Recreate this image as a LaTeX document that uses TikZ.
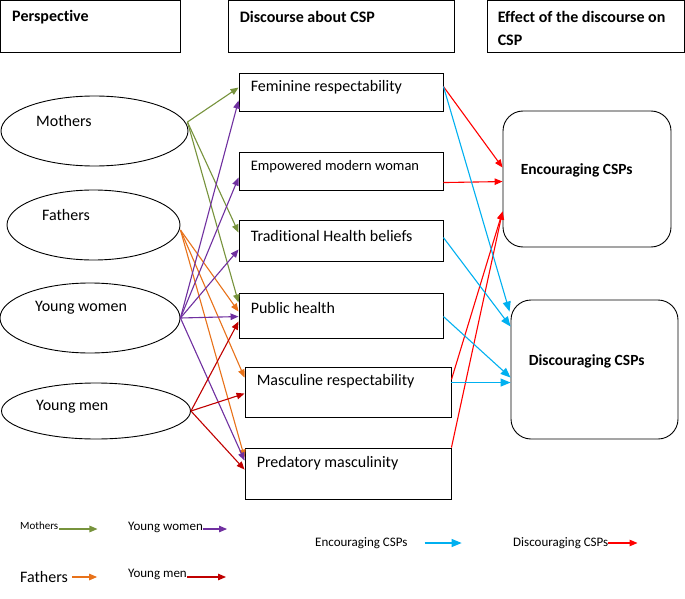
\documentclass[tikz,border=0pt]{standalone}
\usepackage{fontspec}
\setmainfont{Carlito}[Ligatures={NoCommon}]
\usetikzlibrary{calc,arrows.meta,shapes.geometric}
\definecolor{cgreen}{RGB}{119,147,60}
\definecolor{cpurple}{RGB}{112,48,160}
\definecolor{corange}{RGB}{232,114,26}
\definecolor{cdred}{RGB}{192,0,0}
\definecolor{cblue}{RGB}{0,176,240}
\definecolor{cred}{RGB}{255,0,0}
\begin{document}
\begin{tikzpicture}[x=1pt,y=-1pt,
  box/.style={draw, line width=0.9pt, rectangle, inner sep=0pt},
  ell/.style={draw, line width=0.9pt, ellipse, inner sep=0pt},
  eff/.style={draw, line width=0.9pt, rectangle, rounded corners=20pt, inner sep=0pt},
  lbl/.style={anchor=west, inner sep=0pt, font=\fontsize{16}{19}\selectfont},
  hlbl/.style={anchor=west, inner sep=0pt, font=\bfseries\fontsize{16}{19}\selectfont},
  arr/.style={-{Triangle[length=8pt,width=6.5pt]}, line width=1.1pt},
  barr/.style={-{Triangle[length=10pt,width=8pt]}, line width=1.1pt},
]
\fill[white] (0,0) rectangle (685,599);
\useasboundingbox (0,0) rectangle (685,599);

% headers
\node[box, minimum width=179.5pt, minimum height=51.5pt] (h1) at (90.25,26.25) {};
\node[box, minimum width=226pt, minimum height=51.5pt] (h2) at (341,26.25) {};
\node[box, minimum width=197.5pt, minimum height=51.5pt] (h3) at (585.75,26.25) {};
\node[hlbl] (h1t) at ($(h1.north west)+(12,17)$) {Perspective};
\node[hlbl] (h2t) at ($(h2.north west)+(12,17)$) {Discourse about CSP};
\node[hlbl] (h3t) at ($(h3.north west)+(11,17)$) {Effect of the discourse on};
\node[hlbl] (h3u) at ($(h3.north west)+(11,40)$) {CSP};

% perspectives
\node[ell, minimum width=187pt, minimum height=70pt] (mo) at (94.5,131) {};
\node[ell, minimum width=173pt, minimum height=70pt] (fa) at (93.5,225) {};
\node[ell, minimum width=180pt, minimum height=70pt] (yw) at (90,318) {};
\node[ell, minimum width=189pt, minimum height=56pt] (ym) at (96,411) {};
\node[lbl] (mot) at (36,121) {Mothers};
\node[lbl] (fat) at (42,215) {Fathers};
\node[lbl] (ywt) at (35,308) {Young women};
\node[lbl] (ymt) at (36,407) {Young men};

% discourses
\node[box, minimum width=204pt, minimum height=38pt] (fem) at (341,92) {};
\node[box, minimum width=204pt, minimum height=38pt] (emp) at (341,171) {};
\node[box, minimum width=204pt, minimum height=41pt] (trad) at (341,240.5) {};
\node[box, minimum width=204pt, minimum height=45pt] (pub) at (341,315.5) {};
\node[box, minimum width=206pt, minimum height=50pt] (masc) at (348,392) {};
\node[box, minimum width=206pt, minimum height=51pt] (pred) at (348,473.5) {};
\node[lbl] (femt) at ($(fem.north west)+(12,15)$) {Feminine respectability};
\node[lbl, font=\fontsize{14.5}{17}\selectfont] (empt) at ($(emp.north west)+(12,15)$) {Empowered modern woman};
\node[lbl] (tradt) at ($(trad.north west)+(12,16)$) {Traditional Health beliefs};
\node[lbl] (pubt) at ($(pub.north west)+(12,15)$) {Public health};
\node[lbl] (masct) at ($(masc.north west)+(12,15)$) {Masculine respectability};
\node[lbl] (predt) at ($(pred.north west)+(12,16)$) {Predatory masculinity};

% effects
\node[eff, minimum width=168pt, minimum height=136pt] (enc) at (587,179) {};
\node[eff, minimum width=167pt, minimum height=139pt] (dis) at (594.5,369.5) {};
\node[hlbl, font=\bfseries\fontsize{15.5}{19}\selectfont] (enct) at ($(enc.north west)+(18,60)$) {Encouraging CSPs};
\node[hlbl, font=\bfseries\fontsize{15.5}{19}\selectfont] (dist) at ($(dis.north west)+(18,62)$) {Discouraging CSPs};

% sources
\coordinate (moS) at ($(mo.east)+(-1,-9)$);
\coordinate (faS) at ($(fa.east)+(0,5)$);

% mothers (green)
\draw[arr, cgreen] (moS) -- ($(fem.north west)+(0,15)$);
\draw[arr, cgreen] (moS) -- ($(trad.north west)+(0,13)$);
\draw[arr, cgreen] (moS) -- ($(pub.north west)+(0,10)$);
% fathers (orange)
\draw[arr, corange] (faS) -- ($(pub.north west)+(0,19)$);
\draw[arr, corange] (faS) -- ($(masc.north west)+(0,11)$);
\draw[arr, corange] (faS) -- ($(pred.north west)+(0,10)$);
% young women (purple)
\draw[arr, cpurple] (yw.east) -- ($(fem.north west)+(0,28)$);
\draw[arr, cpurple] (yw.east) -- ($(emp.north west)+(0,26)$);
\draw[arr, cpurple] (yw.east) -- ($(trad.north west)+(0,30)$);
\draw[arr, cpurple] (yw.east) -- ($(pub.north west)+(0,24)$);
\draw[arr, cpurple] (yw.east) -- ($(pred.north west)+(0,13)$);
% young men (dark red)
\draw[arr, cdred] (ym.east) -- ($(pub.north west)+(0,29)$);
\draw[arr, cdred] (ym.east) -- ($(masc.north west)+(0,27)$);
\draw[arr, cdred] (ym.east) -- ($(pred.north west)+(0,22)$);

% to effects
\draw[arr, cred] ($(fem.north east)+(0,14)$) -- ($(enc.north west)+(0,57)$);
\draw[arr, cred] ($(emp.north east)+(0,31)$) -- ($(enc.north west)+(0,71)$);
\draw[arr, cred] ($(masc.north east)+(0,13)$) -- ($(enc.north west)+(0,101)$);
\draw[arr, cred] (pred.north east) -- ($(enc.north west)+(0,101)$);
\draw[barr, cblue] ($(fem.north east)+(0,14)$) -- ($(dis.north west)+(-1,12)$);
\draw[barr, cblue] ($(trad.north east)+(0,18)$) -- ($(dis.north west)+(0,27)$);
\draw[barr, cblue] ($(pub.north east)+(0,24)$) -- ($(dis.north west)+(0,78)$);
\draw[barr, cblue] ($(masc.north east)+(0,16)$) -- ($(dis.north west)+(0,83)$);

% legend
\node[lbl, font=\fontsize{11}{13}\selectfont] (lmo) at (20,526) {Mothers};
\draw[arr, cgreen] ([xshift=1pt,yshift=-3pt]lmo.east) -- ++(38,0);
\node[lbl, font=\fontsize{13}{15}\selectfont] (lyw) at (128,527) {Young women};
\draw[arr, cpurple] ([yshift=-2pt]lyw.east) -- ++(24,0);
\node[lbl, font=\fontsize{16}{19}\selectfont] (lfa) at (20,577) {Fathers};
\draw[arr, corange] ([xshift=4pt]lfa.east) -- ++(25,0);
\node[lbl, font=\fontsize{13}{15}\selectfont] (lym) at (128,574) {Young men};
\draw[arr, cdred] ([yshift=-3pt]lym.east) -- ++(39,0);
\node[lbl, font=\fontsize{13}{15}\selectfont] (lenc) at (315,543) {Encouraging CSPs};
\draw[barr, cblue] ([xshift=17pt]lenc.east) -- ++(37,0);
\node[lbl, font=\fontsize{13}{15}\selectfont] (ldis) at (513,543) {Discouraging CSPs};
\draw[arr, cred] ([xshift=-1pt]ldis.east) -- ++(30,0);
\end{tikzpicture}
\end{document}
